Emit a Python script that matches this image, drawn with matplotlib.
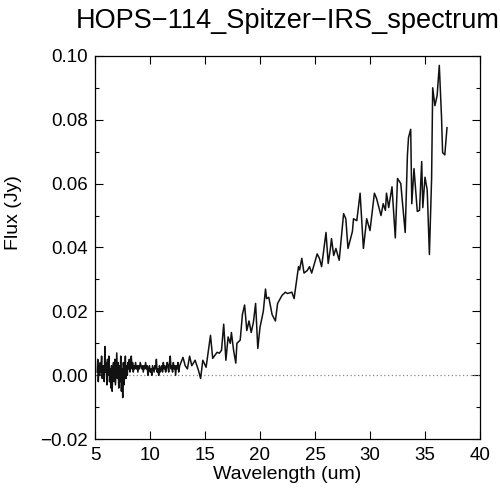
import matplotlib
matplotlib.use("Agg")
import matplotlib.pyplot as plt
from matplotlib.ticker import MultipleLocator

plt.rcParams["font.family"] = ["Liberation Sans", "DejaVu Sans"]

TITLE = "HOPS\u2212114_Spitzer\u2212IRS_spectrum"

# short-wavelength part (noisy, near zero)
wl_short = [
    5.20, 5.25, 5.30, 5.36, 5.42, 5.48, 5.54, 5.60, 5.66, 5.72, 5.78, 5.84,
    5.90, 5.96, 6.02, 6.08, 6.14, 6.20, 6.26, 6.32, 6.38, 6.44, 6.50, 6.56,
    6.62, 6.68, 6.74, 6.80, 6.86, 6.92, 6.98, 7.04, 7.10, 7.16, 7.22, 7.28,
    7.34, 7.40, 7.46, 7.52, 7.58, 7.64, 7.70, 7.76, 7.82, 7.88, 7.94, 8.00,
    8.06, 8.12, 8.18, 8.24, 8.30, 8.36, 8.42, 8.48, 8.55, 8.62, 8.69, 8.76,
    8.83, 8.90, 8.97, 9.04, 9.11, 9.18, 9.25, 9.32, 9.39, 9.46, 9.53, 9.60,
    9.67, 9.74, 9.81, 9.88, 9.95, 10.02, 10.09, 10.16, 10.23, 10.30, 10.37,
    10.44, 10.51, 10.58, 10.65, 10.72, 10.79, 10.86, 10.93, 11.00, 11.07,
    11.14, 11.21, 11.28, 11.35, 11.42, 11.49, 11.56, 11.63, 11.70, 11.77,
    11.84, 11.91, 11.98, 12.05, 12.12, 12.19, 12.26, 12.33, 12.40, 12.47,
    12.54, 12.61,
]
flux_short = [
    0.001, 0.005, -0.002, 0.003, 0.000, 0.004, 0.001, 0.006, -0.001, 0.003, 0.002, -0.002,
    0.009, 0.001, 0.004, -0.003, 0.005, 0.000, 0.006, -0.002, 0.002, -0.004, 0.003, -0.005,
    0.001, 0.004, -0.002, 0.005, -0.003, 0.002, 0.007, -0.001, 0.004, -0.004, 0.003, -0.002,
    0.006, -0.005, 0.002, -0.007, 0.004, -0.003, 0.001, 0.006, -0.001, 0.003, 0.000, 0.004,
    0.002, 0.005, 0.001, 0.003, 0.006, 0.002, 0.004, 0.001, 0.003, 0.002, 0.004, 0.002,
    0.003, 0.001, 0.003, 0.002, 0.004, 0.003, 0.002, 0.003, 0.001, 0.003, 0.002, 0.004,
    0.002, 0.003, 0.000, 0.002, 0.003, 0.001, 0.002, 0.000, 0.003, 0.002, 0.001,
    0.003, 0.002, 0.005, 0.001, 0.002, 0.000, 0.003, 0.001, 0.002, 0.003,
    0.001, 0.004, 0.002, 0.003, 0.001, 0.002, 0.004, 0.003, 0.001, 0.004,
    0.006, 0.002, 0.003, 0.001, 0.004, 0.002, 0.003, 0.000, 0.003, 0.002,
    0.004, 0.001,
]

# long-wavelength part (rising)
wl_long = [
    12.7, 13.0, 13.2, 13.4, 13.6, 13.8, 14.1, 14.4, 14.6, 14.8, 15.1, 15.5,
    15.7, 16.1, 16.3, 16.5, 16.7, 16.9, 17.1, 17.3, 17.4, 17.6, 17.8, 17.9,
    18.2, 18.4, 18.6, 18.8, 19.0, 19.2, 19.4, 19.6, 19.8, 20.0, 20.3, 20.5,
    20.6, 20.8, 21.1, 21.4, 21.6, 22.0, 22.3, 22.5, 22.9, 23.1, 23.5, 23.6,
    23.8, 24.0, 24.3, 24.5, 24.7, 25.2, 25.4, 25.6, 26.0, 26.2, 26.4, 26.5,
    26.7, 26.9, 27.2, 27.6, 27.8, 28.0, 28.4, 28.5, 28.8, 29.1, 29.4, 29.7,
    30.0, 30.4, 30.6, 31.0, 31.2, 31.4, 31.5, 31.7, 32.0, 32.3, 32.5, 32.8,
    32.9, 33.2, 33.4, 33.5, 33.7, 33.8, 34.0, 34.3, 34.5, 34.7, 34.8, 35.0,
    35.2, 35.4, 35.6, 35.7, 35.9, 36.1, 36.3, 36.5, 36.6, 36.8, 37.0,
]
flux_long = [
    0.003, 0.0056, 0.003, 0.002, 0.006, 0.003, 0.0047, 0.0016, -0.001, 0.0047, 0.0025, 0.0125,
    0.0053, 0.0072, 0.0069, 0.0078, 0.016, 0.0047, 0.012, 0.010, 0.0134, 0.0078, 0.0038, 0.010,
    0.011, 0.019, 0.022, 0.014, 0.017, 0.0134, 0.0166, 0.0225, 0.0084, 0.015, 0.020, 0.027,
    0.024, 0.0244, 0.019, 0.017, 0.0225, 0.025, 0.026, 0.0256, 0.026, 0.024, 0.034, 0.033,
    0.0366, 0.032, 0.0328, 0.034, 0.032, 0.038, 0.0366, 0.034, 0.0447, 0.035, 0.0397, 0.0428,
    0.0375, 0.0397, 0.036, 0.0506, 0.049, 0.0397, 0.045, 0.049, 0.0484, 0.057, 0.0397, 0.049,
    0.0453, 0.057, 0.0553, 0.050, 0.0537, 0.0516, 0.057, 0.0525, 0.059, 0.043, 0.0616, 0.060,
    0.056, 0.0447, 0.0688, 0.0744, 0.077, 0.0537, 0.0647, 0.0513, 0.0516, 0.0669, 0.0525, 0.062,
    0.058, 0.0378, 0.0616, 0.090, 0.0844, 0.0875, 0.097, 0.081, 0.0697, 0.069, 0.0775,
]

wavelength = wl_short + wl_long
flux = flux_short + flux_long

fig = plt.figure(figsize=(5.0, 4.94), dpi=100)
ax = fig.add_axes([0.19, 0.111, 0.77, 0.776])

ax.plot([5, 40], [0, 0], color="#888888", linestyle=(0, (1, 2)), linewidth=0.9)
ax.plot(wavelength, flux, color="#111111", linewidth=1.1)

ax.set_xlim(5, 40)
ax.set_ylim(-0.02, 0.10)
ax.xaxis.set_major_locator(MultipleLocator(5))
ax.yaxis.set_major_locator(MultipleLocator(0.02))
ax.yaxis.set_minor_locator(MultipleLocator(0.01))
ax.yaxis.set_major_formatter(matplotlib.ticker.FuncFormatter(
    lambda v, p: f"{v:.2f}".replace("-", "\u2212")))
ax.tick_params(which="both", direction="in", top=True, right=True,
               labelsize=13.5, width=0.8)
ax.tick_params(which="major", length=6)
ax.tick_params(which="minor", length=3)
ax.tick_params(axis="x", pad=6)
ax.tick_params(axis="y", pad=5)
for s in ax.spines.values():
    s.set_linewidth(0.9)

ax.set_xlabel("Wavelength (um)", fontsize=14, labelpad=1)
ax.set_ylabel("Flux (Jy)", fontsize=14)
ax.yaxis.set_label_coords(-0.19, 0.59)
ax.set_title(TITLE, fontsize=19.5, pad=20)

fig.savefig("out.png", dpi=100)
